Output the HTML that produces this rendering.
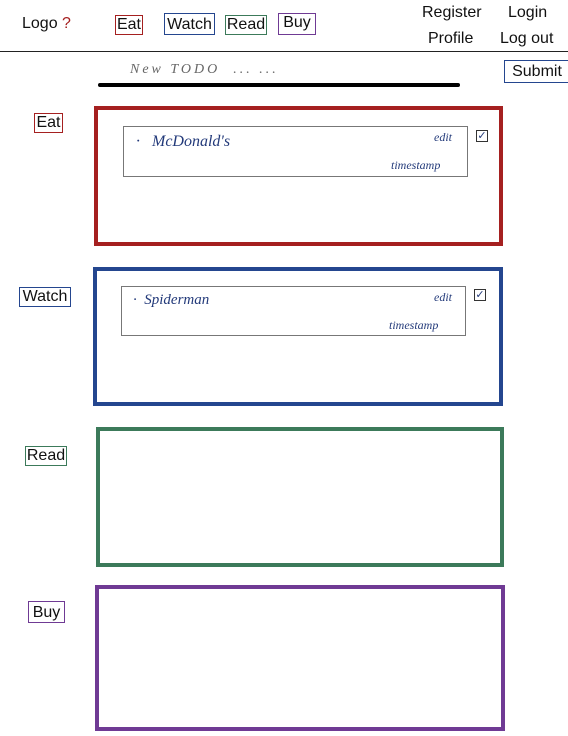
<!DOCTYPE html>
<html><head><meta charset="utf-8"><style>
body{margin:0;width:568px;height:736px;background:#fff;position:relative;overflow:hidden;font-family:"Liberation Sans",sans-serif;color:#111}
.a{position:absolute}
.t{font-size:16px;line-height:18px}
.lb{position:absolute;box-sizing:border-box;border:1.3px solid;font-size:16px;line-height:17px;text-align:center}
.big{position:absolute;box-sizing:border-box;border:4px solid}
.in{position:absolute;box-sizing:border-box;border:1.3px solid #777}
.hw{position:absolute;font-family:"Liberation Serif",serif;font-style:italic;color:#233a7a}
.cb{position:absolute;width:10px;height:10px;border:1.2px solid #333;font-size:11px;line-height:10px;text-align:center;color:#233a7a}
</style></head><body>
<div class="a t" style="left:22px;top:15px">Logo <span style="color:#a52020">?</span></div>
<div class="lb" style="left:115px;top:15px;width:28px;height:20px;border-color:#a52020">Eat</div>
<div class="lb" style="left:164px;top:13px;width:51px;height:22px;border-color:#24468f;padding-top:2px">Watch</div>
<div class="lb" style="left:225px;top:15px;width:42px;height:20px;border-color:#3c7a5a">Read</div>
<div class="lb" style="left:278px;top:13px;width:38px;height:22px;border-color:#6f3a94">Buy</div>
<div class="a t" style="left:422px;top:4px">Register</div>
<div class="a t" style="left:508px;top:4px">Login</div>
<div class="a t" style="left:428px;top:30px">Profile</div>
<div class="a t" style="left:500px;top:30px">Log out</div>
<div class="a" style="left:0;top:51px;width:568px;height:1px;background:#222"></div>
<div class="a" style="left:130px;top:62px;font-family:'Liberation Serif',serif;font-style:italic;font-size:14px;color:#666;letter-spacing:3px">New TODO &nbsp;... ...</div>
<div class="a" style="left:98px;top:83px;width:362px;height:4px;background:#000;border-radius:2px"></div>
<div class="lb" style="left:504px;top:60px;width:66px;height:23px;border-color:#24468f;padding-top:2px">Submit</div>

<div class="lb" style="left:34px;top:113px;width:29px;height:20px;border-color:#a52020">Eat</div>
<div class="big" style="left:94px;top:106px;width:409px;height:140px;border-color:#a52020"></div>
<div class="in" style="left:123px;top:126px;width:345px;height:51px"></div>
<div class="hw" style="left:136px;top:133px;font-size:16px">·&nbsp;&nbsp; McDonald's</div>
<div class="hw" style="left:434px;top:130px;font-size:12px">edit</div>
<div class="hw" style="left:391px;top:158px;font-size:12px">timestamp</div>
<div class="cb" style="left:476px;top:130px">✓</div>

<div class="lb" style="left:19px;top:287px;width:52px;height:20px;border-color:#24468f">Watch</div>
<div class="big" style="left:93px;top:267px;width:410px;height:139px;border-color:#24468f"></div>
<div class="in" style="left:121px;top:286px;width:345px;height:50px"></div>
<div class="hw" style="left:133px;top:292px;font-size:15px">·&nbsp; Spiderman</div>
<div class="hw" style="left:434px;top:290px;font-size:12px">edit</div>
<div class="hw" style="left:389px;top:318px;font-size:12px">timestamp</div>
<div class="cb" style="left:474px;top:289px">✓</div>

<div class="lb" style="left:25px;top:446px;width:42px;height:20px;border-color:#3c7a5a">Read</div>
<div class="big" style="left:96px;top:427px;width:408px;height:140px;border-color:#3c7a5a"></div>

<div class="lb" style="left:28px;top:601px;width:37px;height:22px;border-color:#6f3a94;padding-top:2px">Buy</div>
<div class="big" style="left:95px;top:585px;width:410px;height:146px;border-color:#6f3a94"></div>
</body></html>
